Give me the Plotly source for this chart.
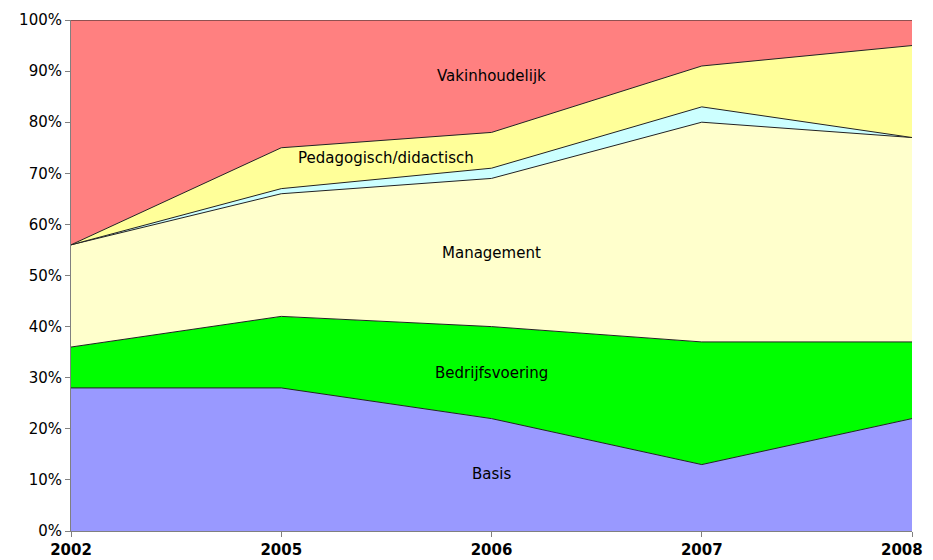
import plotly.graph_objects as go

years = ["2002", "2005", "2006", "2007", "2008"]
basis = [28, 28, 22, 13, 22]
bedrijfsvoering = [8, 14, 18, 24, 15]
management = [20, 24, 29, 43, 40]
overig = [0, 1, 2, 3, 0]
pedagogisch = [0, 8, 7, 8, 18]
vakinhoudelijk = [44, 25, 22, 9, 5]
y_ticks = [0, 10, 20, 30, 40, 50, 60, 70, 80, 90, 100]

series = [
    ("Basis", basis, "#9999FF"),
    ("Bedrijfsvoering", bedrijfsvoering, "#00FF00"),
    ("Management", management, "#FFFFCC"),
    ("Overig", overig, "#CCFFFF"),
    ("Pedagogisch/didactisch", pedagogisch, "#FFFF99"),
    ("Vakinhoudelijk", vakinhoudelijk, "#FF8080"),
]

xs = list(range(len(years)))
fig = go.Figure()
for name, vals, col in series:
    fig.add_trace(go.Scatter(
        x=xs, y=vals, name=name, mode="lines", stackgroup="one",
        fillcolor=col, line=dict(color="#222222", width=1),
        hoverinfo="skip",
    ))

labels = [
    ("Vakinhoudelijk", 2, 89),
    ("Pedagogisch/didactisch", 1.5, 73),
    ("Management", 2, 54.5),
    ("Bedrijfsvoering", 2, 31),
    ("Basis", 2, 11.2),
]
for txt, x, y in labels:
    fig.add_annotation(x=x, y=y, text=txt, showarrow=False,
                       font=dict(family="DejaVu Sans", size=15, color="#000000"))

# last year label placed inside the page so that it is not clipped
fig.add_annotation(x=xs[-1], xref="x", y=0, yref="paper", text="<b>%s</b>" % years[-1],
                   showarrow=False, xanchor="right", yanchor="top", xshift=13, yshift=-8,
                   font=dict(family="DejaVu Sans", size=15, color="#000000"))

fig.update_layout(
    width=933, height=552,
    margin=dict(l=63, r=29, t=12, b=29),
    paper_bgcolor="white", plot_bgcolor="white",
    showlegend=False,
    font=dict(family="DejaVu Sans", color="#000000"),
)
fig.update_xaxes(
    range=[0, 4], tickmode="array", tickvals=xs,
    ticktext=["<b>%s</b>" % y for y in years[:-1]] + [""],
    tickfont=dict(family="DejaVu Sans", size=15),
    showgrid=False, zeroline=False, showline=True, linecolor="#808080", linewidth=1,
    ticks="outside", ticklen=5, tickcolor="#808080",
    automargin=False, ticklabeloverflow="allow",
)
fig.update_yaxes(
    range=[0, 100], tickmode="array", tickvals=y_ticks,
    ticktext=["%d%%" % v for v in y_ticks],
    tickfont=dict(family="DejaVu Sans", size=15),
    showgrid=False, zeroline=False, showline=True, linecolor="#808080", linewidth=1,
    ticks="outside", ticklen=5, tickcolor="#808080",
    automargin=False, ticklabeloverflow="allow",
)
fig.write_html("out.html")
